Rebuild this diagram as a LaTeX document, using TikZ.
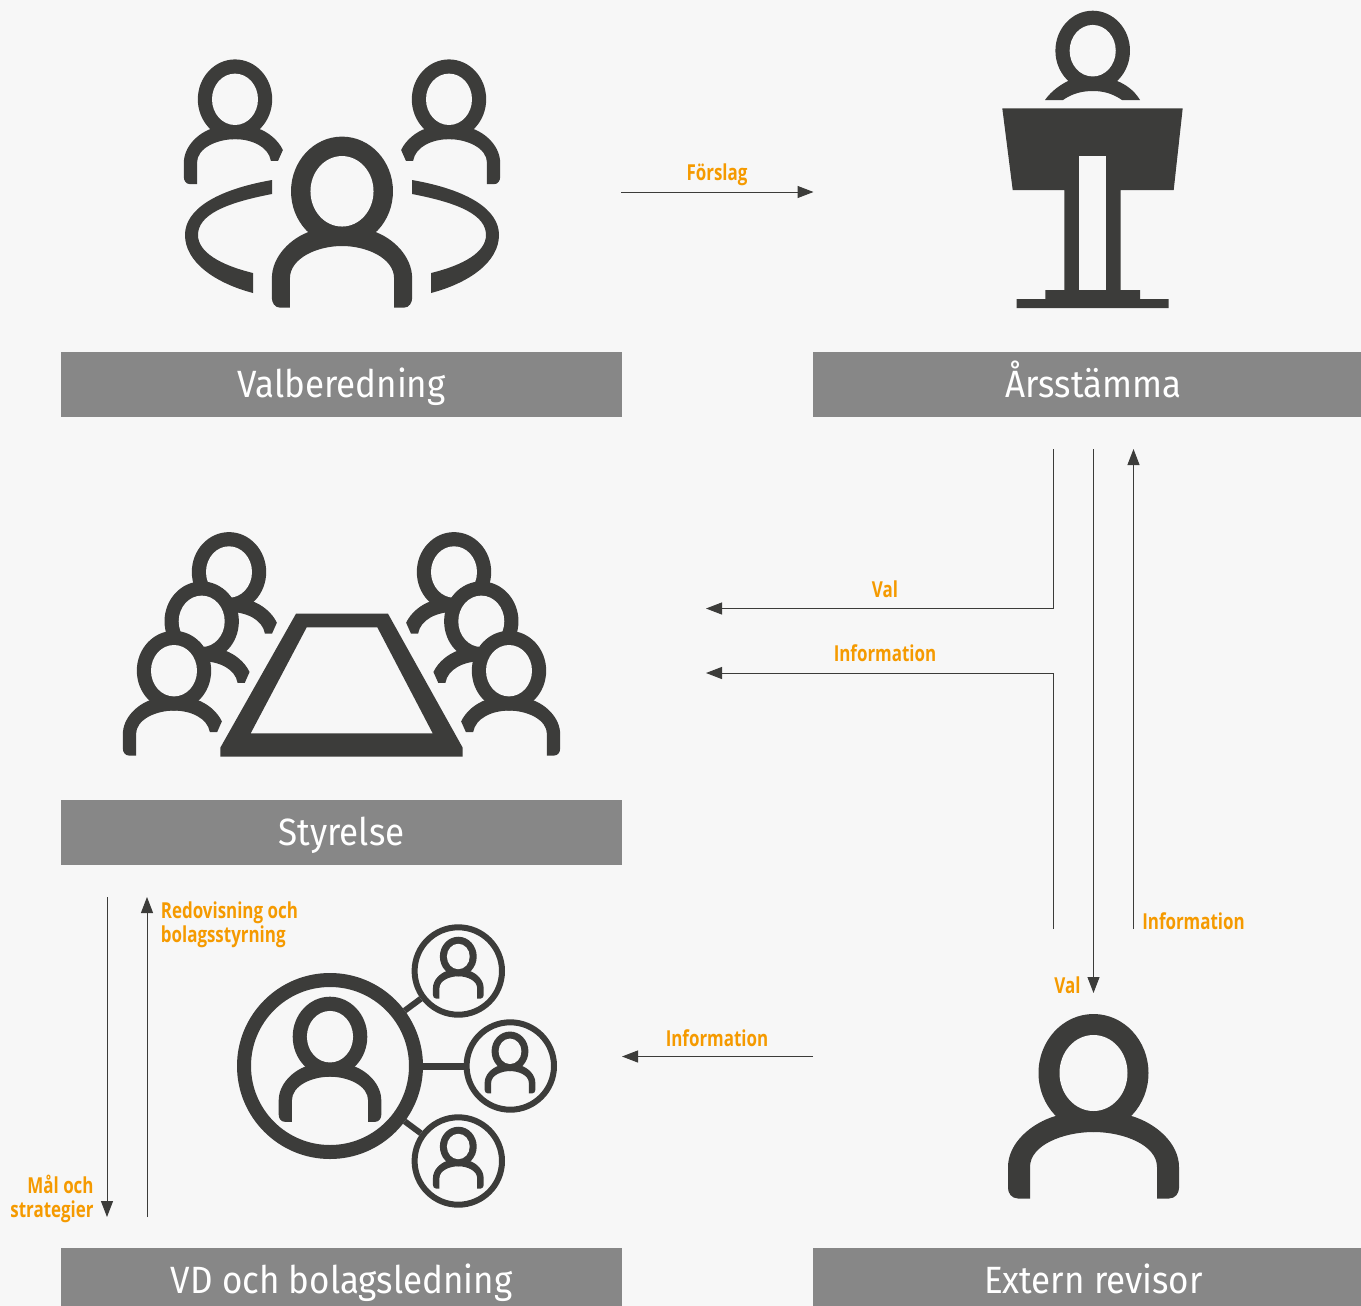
\documentclass[tikz,border=0pt]{standalone}
\usepackage{fontspec}
\usetikzlibrary{arrows.meta}
\setmainfont[FakeStretch=0.92]{Fira Sans}
\newfontfamily\labelfont[FakeStretch=0.77]{Open Sans}
\definecolor{bgcol}{HTML}{F7F7F7}
\definecolor{iconcol}{HTML}{3C3C3A}
\definecolor{barcol}{HTML}{878787}
\definecolor{labelcol}{HTML}{F59A00}
\newcommand{\personicon}[5]{%
  \pic [xscale=#4*0.885,yscale=#5] at (#2,#3) {#1};
  \pic [xscale=#4,yscale=#5] at (#2,#3) {head};
}
\tikzset{
  head/.pic={
    \fill [iconcol] (0,0) ellipse (55 and 59);
    \fill [bgcol] (0,0) ellipse (34 and 38);
  },
  body/.pic={
    \fill [iconcol] (-63.5,125.5) -- (-63.5,94) .. controls (-63.5,72) and (-30,59) .. (0,59)
      .. controls (30,59) and (63.5,72) .. (63.5,94) -- (63.5,125.5) -- (75.5,125.5)
      .. controls (82,125.5) and (85.5,120) .. (85.5,115) -- (85.5,94)
      .. controls (85.5,70) and (62,50) .. (38,43) -- (-38,43)
      .. controls (-62,50) and (-85.5,70) .. (-85.5,94) -- (-85.5,115)
      .. controls (-85.5,120) and (-82,125.5) .. (-75.5,125.5) -- cycle;
  },
  cutbody/.pic={
    \fill [iconcol] (-63.5,125.5) -- (-63.5,94) .. controls (-63.5,72) and (-30,59) .. (0,59)
      .. controls (28,59) and (56,70) .. (60,91) -- (72,91) -- (80,75)
      .. controls (72,60) and (55,48) .. (38,43) -- (-38,43)
      .. controls (-62,50) and (-85.5,70) .. (-85.5,94) -- (-85.5,115)
      .. controls (-85.5,120) and (-82,125.5) .. (-75.5,125.5) -- cycle;
  },
  shoulder/.pic={
    \fill [iconcol] (0,59) .. controls (28,59) and (56,70) .. (60,91) -- (72,91) -- (80,75)
      .. controls (72,60) and (55,48) .. (38,43) -- (0,43) -- cycle;
  },
  sidearc/.pic={
    \fill [iconcol] (-70,-55) .. controls (-127,-45) and (-157,-25) .. (-157,0)
      .. controls (-157,27) and (-127,48) .. (-89,58) -- (-89,38)
      .. controls (-122,30) and (-144,17) .. (-144,0)
      .. controls (-144,-20) and (-117,-32) .. (-70,-41) -- cycle;
  },
  bar/.style={fill=barcol,text=white,minimum width=280.5pt,minimum height=32.5pt,inner sep=0pt,
    text height=15.5pt,text depth=3pt,font=\fontsize{19}{21}\selectfont},
  tag/.style={text=labelcol,inner sep=0pt,align=left,font=\labelfont\bfseries\fontsize{11}{12}\selectfont},
  flow/.style={iconcol,line width=0.5pt,-{Triangle[length=8pt,width=6pt]}},
  ring/.style={circle,draw=iconcol,line width=3pt,minimum size=43.7pt,inner sep=0pt},
  spoke/.style={iconcol,line width=3pt},
}
\begin{document}
\begin{tikzpicture}[x=0.5pt,y=-0.5pt]
\clip (0,0) rectangle (1361,1306);
\fill [bgcol] (0,0) rectangle (1361,1306);
% bars
\node [bar] (valberedning) at (341.5,384.5) {Valberedning};
\node [bar] (arsstamma) at (1093.5,384.5) {Årsstämma};
\node [bar] (styrelse) at (341.5,832.5) {Styrelse};
\node [bar] (vd) at (341.5,1280.5) {VD och bolagsledning};
\node [bar] (revisor) at (1093.5,1280.5) {Extern revisor};
% valberedning icon
\personicon{cutbody}{235}{99.3}{0.676}{0.676}
\personicon{cutbody}{449}{99.3}{-0.676}{0.676}
\pic at (342,235) {sidearc};
\pic [xscale=-1] at (342,235) {sidearc};
\personicon{body}{342}{191.3}{0.927}{0.927}
% lectern
\pic [scale=0.678] at (1092.7,50.7) {head};
\fill [iconcol] (1045,100) .. controls (1052,90) and (1062,84) .. (1068,81) -- (1117,81)
  .. controls (1125,84) and (1134,90) .. (1140,100) -- (1122,100)
  .. controls (1112,93) and (1102,91) .. (1093,91) .. controls (1083,91) and (1073,93) .. (1063,100) -- cycle;
\fill [iconcol] (1002.3,108.3) -- (1182.7,108.3) -- (1173.7,190) -- (1120.7,190) -- (1120.7,290)
  -- (1140,290) -- (1140,299) -- (1168.7,299) -- (1168.7,308) -- (1016.7,308) -- (1016.7,299)
  -- (1045.3,299) -- (1045.3,290) -- (1064.3,290) -- (1064.3,190) -- (1012.7,190) -- cycle;
\fill [bgcol] (1079,155.7) rectangle (1106.3,290);
% styrelse icon
\personicon{shoulder}{229}{572}{0.676}{0.676}
\personicon{shoulder}{201.7}{621.3}{0.676}{0.676}
\personicon{cutbody}{174}{670.7}{0.676}{0.676}
\personicon{shoulder}{454}{572}{-0.676}{0.676}
\personicon{shoulder}{481.3}{621.3}{-0.676}{0.676}
\personicon{cutbody}{509}{670.7}{-0.676}{0.676}
\fill [iconcol,even odd rule] (296,613.7) -- (388,613.7) -- (462.7,747.7) -- (462.7,756.7)
  -- (220.3,756.7) -- (220.3,747.7) -- cycle
  (306.7,627.3) -- (377.3,627.3) -- (432.7,733.3) -- (250.7,733.3) -- cycle;
% vd icon
\node [ring,line width=7pt,minimum size=86pt] (bigring) at (330,1066) {};
\node [ring] (ringa) at (458.3,971) {};
\node [ring] (ringb) at (510.3,1066) {};
\node [ring] (ringc) at (458.3,1161) {};
\draw [spoke] (bigring) -- (ringa);
\draw [spoke,line width=3.5pt] (bigring) -- (ringb);
\draw [spoke] (bigring) -- (ringc);
\personicon{body}{330}{1036.7}{0.678}{0.678}
\personicon{body}{458.3}{956.5}{0.335}{0.335}
\personicon{body}{510}{1051.3}{0.335}{0.335}
\personicon{body}{458.3}{1146.5}{0.335}{0.335}
% revisor icon
\pic at (1093.5,1073) {body};
\pic at (1093.5,1073) {head};
% connector ends
\coordinate (forslagA) at (621,192);
\coordinate (forslagB) at (813.5,192);
\coordinate (valA) at (1053.5,449);
\coordinate (valB) at (1053.5,608.5);
\coordinate (valC) at (706,608.5);
\coordinate (infoA) at (1053.5,929);
\coordinate (infoB) at (1053.5,673);
\coordinate (infoC) at (706,673);
\coordinate (valdownA) at (1093.5,449);
\coordinate (valdownB) at (1093.5,993);
\coordinate (infoupA) at (1133.5,929);
\coordinate (infoupB) at (1133.5,449);
\coordinate (infovdA) at (813,1056.5);
\coordinate (infovdB) at (622,1056.5);
\coordinate (malA) at (107,897);
\coordinate (malB) at (107,1217);
\coordinate (redoA) at (147,1217);
\coordinate (redoB) at (147,897);
\draw [flow] (forslagA) -- (forslagB);
\draw [flow] (valA) -- (valB) -- (valC);
\draw [flow] (infoA) -- (infoB) -- (infoC);
\draw [flow] (valdownA) -- (valdownB);
\draw [flow] (infoupA) -- (infoupB);
\draw [flow] (infovdA) -- (infovdB);
\draw [flow] (malA) -- (malB);
\draw [flow] (redoA) -- (redoB);
% labels
\node [tag] (forslagtag) at (717,175) {Förslag};
\node [tag] (valtag) at (885,589) {Val};
\node [tag] (infotag) at (885,653) {Information};
\node [tag] (infouptag) at (1193.5,921) {Information};
\node [tag] (valdowntag) at (1067.5,985) {Val};
\node [tag] (infovdtag) at (717,1038) {Information};
\node [tag,anchor=west] (redotag) at (160.5,925) {Redovisning och\\bolagsstyrning};
\node [tag,anchor=east,align=right] (maltag) at (94,1199) {Mål och\\strategier};
\end{tikzpicture}
\end{document}
